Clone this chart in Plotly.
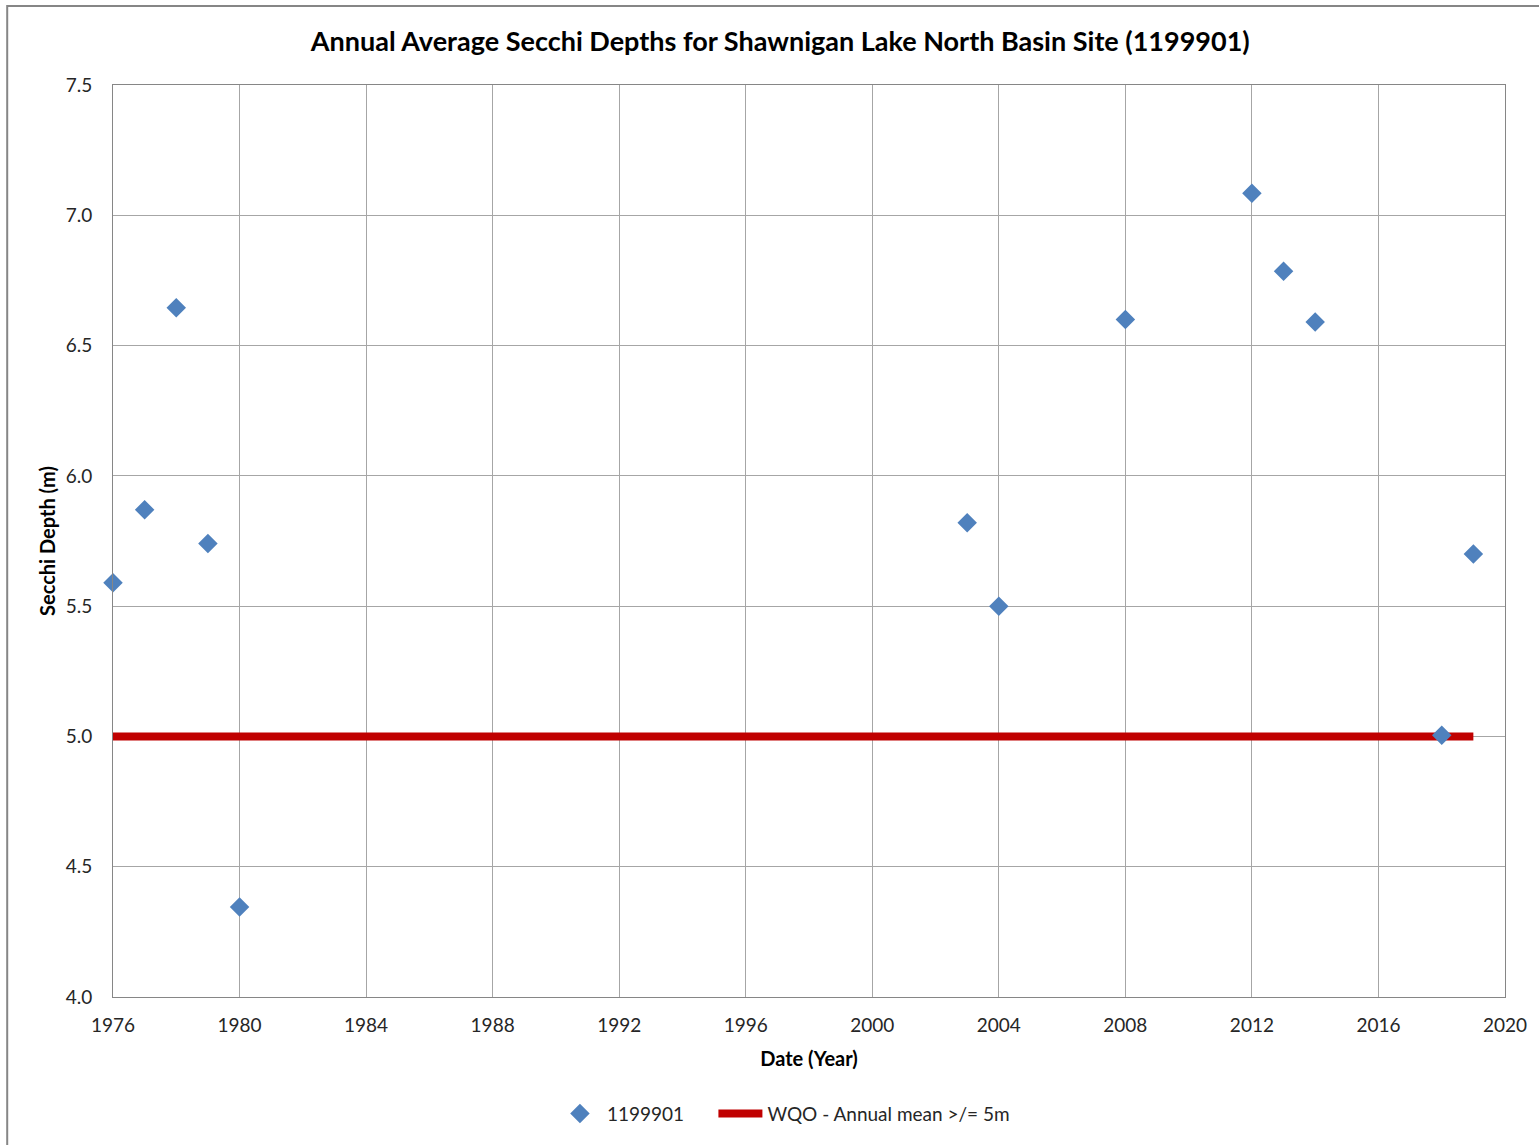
import plotly.graph_objects as go

years = [1976, 1977, 1978, 1979, 1980, 2003, 2004, 2008, 2012, 2013, 2014, 2018, 2019]
secchi = [5.59, 5.87, 6.645, 5.74, 4.345, 5.82, 5.50, 6.60, 7.085, 6.785, 6.59, 5.005, 5.70]

wqo_years = [1976, 2019]
wqo_value = [5.0, 5.0]

fig = go.Figure()

# red objective line goes under the markers
fig.add_trace(go.Scatter(x=wqo_years, y=wqo_value, mode="lines",
                         name="WQO - Annual mean >/= 5m",
                         line=dict(color="#C00000", width=8),
                         legendrank=2))
fig.add_trace(go.Scatter(x=years, y=secchi, mode="markers",
                         name="1199901\u00a0\u00a0\u00a0\u00a0\u00a0",
                         marker=dict(symbol="diamond", size=15, color="#4F81BD"),
                         cliponaxis=False, legendrank=1))

grid = "#A6A6A6"
frame = "#868686"
fig.update_layout(
    width=1539, height=1145,
    paper_bgcolor="white", plot_bgcolor="white",
    font=dict(family="Lato, Open Sans, sans-serif", size=19, color="#262626"),
    margin=dict(l=113, r=28, t=85, b=147),
    title=dict(text="<b>Annual Average Secchi Depths for Shawnigan Lake North Basin Site (1199901)</b>",
               x=0.507, xanchor="center", y=0.964, yanchor="middle",
               font=dict(size=27, color="black")),
    xaxis=dict(range=[1976, 2020], dtick=4, tick0=1976, showgrid=True, gridcolor=grid,
               gridwidth=1, showline=True, linecolor=frame, mirror=True, ticks="",
               zeroline=False, ticklabelstandoff=11,
               title=dict(text="<b>Date (Year)</b>", font=dict(size=20, color="black"), standoff=17)),
    yaxis=dict(range=[4.0, 7.5], dtick=0.5, tickformat=".1f", showgrid=True, gridcolor=grid,
               gridwidth=1, showline=True, linecolor=frame, mirror=True, ticks="",
               zeroline=False, ticklabelstandoff=16,
               title=dict(text="<b>Secchi Depth (m)</b>", font=dict(size=20, color="black"), standoff=4)),
    legend=dict(orientation="h", x=0.482, xanchor="center", y=-0.128, yanchor="middle",
                font=dict(size=19), itemwidth=44),
    showlegend=True,
)

# outer chart border
fig.add_shape(type="rect", xref="paper", yref="paper",
              x0=-0.076, x1=1.1, y0=-0.3, y1=1.0865,
              line=dict(color="#868686", width=2), layer="above")

fig.write_html("out.html", config={"displayModeBar": False},
               post_script="document.body.style.margin='0';")
